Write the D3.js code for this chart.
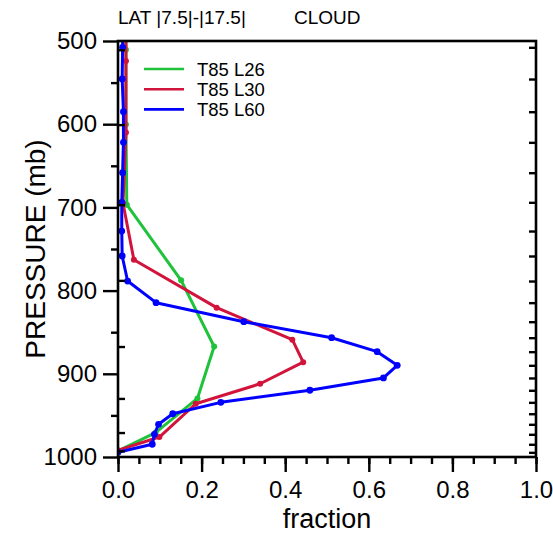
<!DOCTYPE html>
<html>
<head>
<meta charset="utf-8">
<script src="https://cdn.jsdelivr.net/npm/d3@7"></script>
<style>
  html, body { margin: 0; padding: 0; background: #fff; }
  svg { display: block; font-family: "Liberation Sans", Arial, Helvetica, sans-serif; }
</style>
</head>
<body>
<svg id="chart" width="553" height="539"></svg>
<script>
// Cloud fraction profiles (pressure in mb, fraction 0-1)
const seriesNames = ["T85 L26", "T85 L30", "T85 L60"];
const seriesColors = ["#1fc23a", "#d2143c", "#0000ff"];

const pressL26 = [433.9, 510.5, 600.5, 696.8, 787.7, 867.2, 929.6, 970.6, 992.6];
const fracL26  = [0.019, 0.019, 0.019, 0.021, 0.151, 0.230, 0.190, 0.090, 0.000];

const pressL30 = [440, 524, 610, 695, 763, 820.5, 859, 886, 912, 936, 976, 992];
const fracL30  = [0.019, 0.019, 0.019, 0.012, 0.038, 0.236, 0.417, 0.443, 0.340, 0.186, 0.099, 0.000];

const pressL60 = [470, 507.6, 545.7, 585, 621.8, 658.3, 693.9, 728.4, 758.4, 788.5, 814.5, 837.4,
                  856.6, 873.4, 889.8, 905, 919.8, 934.3, 948, 960.7, 972.7, 984.7, 994.4];
const fracL60  = [0.011, 0.011, 0.010, 0.013, 0.013, 0.011, 0.009, 0.009, 0.010, 0.023, 0.091, 0.301,
                  0.511, 0.620, 0.668, 0.635, 0.459, 0.246, 0.131, 0.097, 0.087, 0.082, 0.000];

const xMajorTicks = [0, 0.2, 0.4, 0.6, 0.8, 1.0];
const xMinorTicks = d3.range(0, 1.0001, 0.05);
const yMajorTicks = [500, 600, 700, 800, 900, 1000];
const yMinorTicks = [550, 650, 750, 850, 950];

const titleLeft = "LAT |7.5|-|17.5|";
const titleRight = "CLOUD";
const xTitle = "fraction";
const yTitle = "PRESSURE (mb)";

const series = [
  { p: pressL26, v: fracL26 },
  { p: pressL30, v: fracL30 },
  { p: pressL60, v: fracL60 }
];

const svg = d3.select("#chart");
const plotLeft = 118, plotRight = 536, plotTop = 41, plotBottom = 457;

const x = d3.scaleLinear().domain([0, 1]).range([plotLeft, plotRight]);
const y = d3.scaleLinear().domain([500, 1000]).range([plotTop, plotBottom]);

svg.append("defs").append("clipPath").attr("id", "plotClip")
  .append("rect").attr("x", plotLeft).attr("y", plotTop)
  .attr("width", plotRight - plotLeft).attr("height", plotBottom - plotTop);

// Data lines and markers
const line = d3.line().x(d => x(d[1])).y(d => y(d[0]));
const plot = svg.append("g").attr("clip-path", "url(#plotClip)");
series.forEach((s, i) => {
  const pts = s.p.map((p, k) => [p, s.v[k]]);
  plot.append("path")
    .attr("d", line(pts))
    .attr("fill", "none")
    .attr("stroke", seriesColors[i])
    .attr("stroke-width", 3)
    .attr("stroke-linejoin", "round");
  plot.selectAll(null).data(pts).enter().append("circle")
    .attr("cx", d => x(d[1])).attr("cy", d => y(d[0]))
    .attr("r", i === 2 ? 3.4 : 3)
    .attr("fill", seriesColors[i]);
});

// Axes
const axisStyle = g => {
  g.select(".domain").remove();
  g.selectAll("line").attr("stroke", "#000").attr("stroke-width", 2.4);
};

svg.append("g").attr("transform", `translate(0,${plotBottom})`)
  .call(d3.axisBottom(x).tickValues(xMinorTicks).tickSize(7).tickFormat(""))
  .call(axisStyle);
svg.append("g").attr("transform", `translate(0,${plotBottom})`)
  .call(d3.axisBottom(x).tickValues(xMajorTicks).tickSize(15).tickPadding(9).tickFormat(d3.format(".1f")))
  .call(axisStyle)
  .call(g => g.selectAll("text").attr("font-size", 24).attr("fill", "#000")
    .attr("font-family", "Liberation Sans, Arial, sans-serif"));

svg.append("g").attr("transform", `translate(${plotLeft},0)`)
  .call(d3.axisLeft(y).tickValues(yMinorTicks).tickSize(7).tickFormat(""))
  .call(axisStyle);
svg.append("g").attr("transform", `translate(${plotLeft},0)`)
  .call(d3.axisLeft(y).tickValues(pressL26.filter(p => p >= 500 && p <= 1000)).tickSize(-7).tickFormat(""))
  .call(axisStyle);
svg.append("g").attr("transform", `translate(${plotLeft},0)`)
  .call(d3.axisLeft(y).tickValues(yMajorTicks).tickSize(15).tickPadding(6).tickFormat(d3.format("d")))
  .call(axisStyle)
  .call(g => g.selectAll("text").attr("font-size", 24).attr("fill", "#000")
    .attr("font-family", "Liberation Sans, Arial, sans-serif"));

svg.append("g").attr("transform", `translate(${plotRight},0)`)
  .call(d3.axisRight(y).tickValues(pressL60.filter(p => p >= 500 && p <= 1000)).tickSize(-7).tickFormat(""))
  .call(axisStyle);

// Frame
svg.append("rect")
  .attr("x", plotLeft).attr("y", plotTop)
  .attr("width", plotRight - plotLeft).attr("height", plotBottom - plotTop)
  .attr("fill", "none").attr("stroke", "#000").attr("stroke-width", 2.6);

// Titles
svg.append("text").attr("x", 118).attr("y", 24)
  .attr("font-size", 19).text(titleLeft);
svg.append("text").attr("x", 294).attr("y", 24)
  .attr("font-size", 19).text(titleRight);

svg.append("text")
  .attr("x", (plotLeft + plotRight) / 2).attr("y", 528)
  .attr("text-anchor", "middle").attr("font-size", 27).text(xTitle);

svg.append("text")
  .attr("transform", `translate(45,${(plotTop + plotBottom) / 2}) rotate(-90)`)
  .attr("text-anchor", "middle").attr("font-size", 28).text(yTitle);

// Legend
const legend = svg.append("g");
seriesNames.forEach((name, i) => {
  const ly = 69 + i * 20.2;
  legend.append("line")
    .attr("x1", 144).attr("x2", 184).attr("y1", ly).attr("y2", ly)
    .attr("stroke", seriesColors[i]).attr("stroke-width", 2.6);
  legend.append("text")
    .attr("x", 197).attr("y", ly).attr("dy", "0.36em")
    .attr("font-size", 18.5).text(name);
});
</script>
</body>
</html>
